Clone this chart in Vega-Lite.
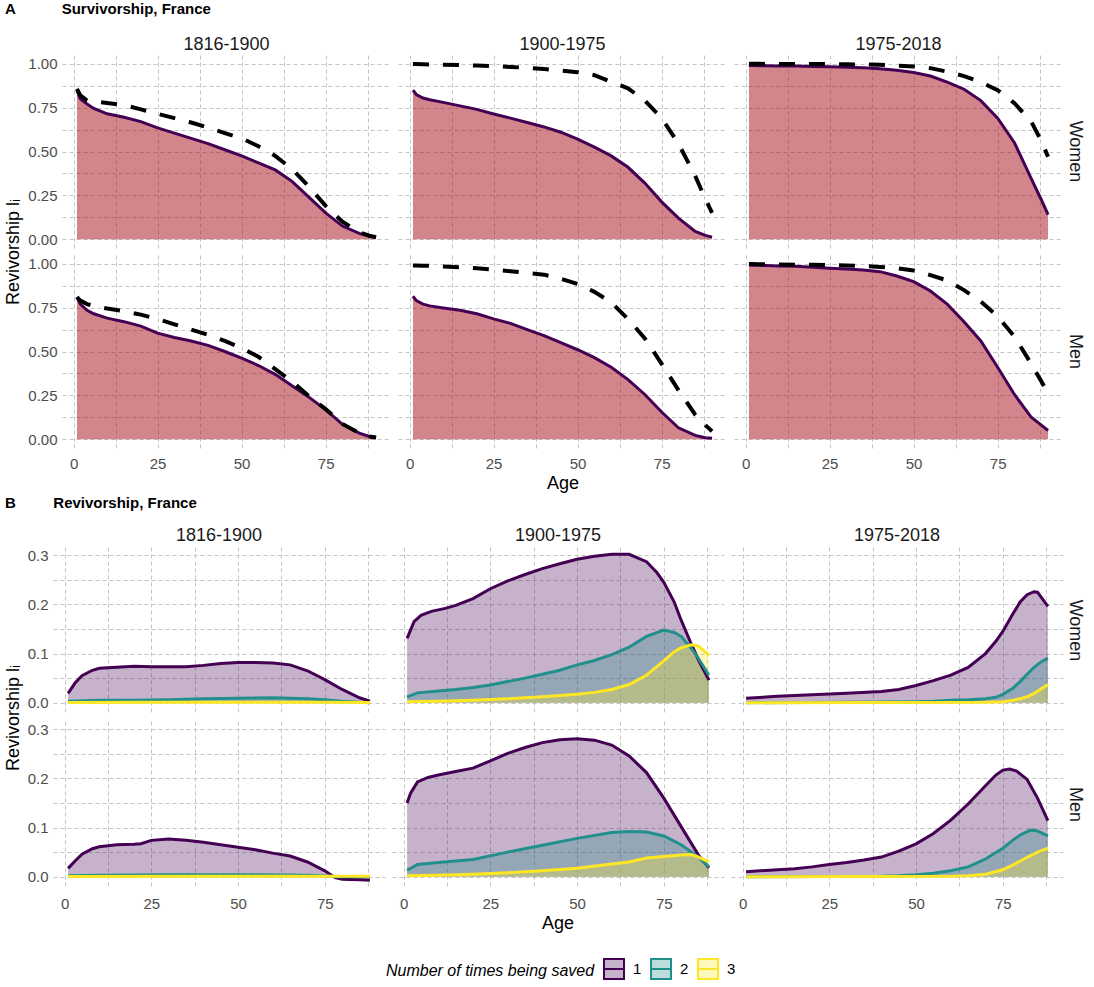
{
"$schema": "https://vega.github.io/schema/vega-lite/v6.json",
"background": "white",
"padding": {"left": 0, "top": 2, "right": 5, "bottom": 5},
"config": {
  "font": "Liberation Sans",
  "view": {"stroke": null},
  "axis": {"domain": false, "ticks": false, "gridColor": "#c4c4c4", "gridDash": [4, 3], "gridWidth": 1, "labelFontSize": 15, "labelColor": "#4d4d4d", "labelPadding": 5},
  "header": {"labelFontSize": 18, "labelColor": "#1a1a1a", "titleFontSize": 18, "titleColor": "#000000", "titleFontWeight": "normal"},
  "title": {"fontSize": 15, "fontWeight": "bold", "color": "#000000", "anchor": "start", "frame": "bounds"}
},
"spacing": 3,
"vconcat": [
{"spacing": -3, "hconcat": [
{"data": {"values": [{"k": 0}]}, "mark": {"type": "point", "opacity": 0}, "encoding": {}, "width": 1, "height": 1},
{
  "title": {"text": "A\u00a0\u00a0\u00a0\u00a0\u00a0\u00a0\u00a0\u00a0\u00a0\u00a0\u00a0Survivorship, France", "offset": 19},
  "data": {"values": [
{"p":"1816-1900","s":"Women","a":1,"obs":0.85,"sav":0.857},
{"p":"1816-1900","s":"Women","a":2,"obs":0.80,"sav":0.82},
{"p":"1816-1900","s":"Women","a":4,"obs":0.77,"sav":0.79},
{"p":"1816-1900","s":"Women","a":6,"obs":0.745,"sav":0.785},
{"p":"1816-1900","s":"Women","a":10,"obs":0.715,"sav":0.776},
{"p":"1816-1900","s":"Women","a":15,"obs":0.695,"sav":0.765},
{"p":"1816-1900","s":"Women","a":20,"obs":0.67,"sav":0.74},
{"p":"1816-1900","s":"Women","a":25,"obs":0.635,"sav":0.715},
{"p":"1816-1900","s":"Women","a":30,"obs":0.605,"sav":0.69},
{"p":"1816-1900","s":"Women","a":35,"obs":0.575,"sav":0.665},
{"p":"1816-1900","s":"Women","a":40,"obs":0.545,"sav":0.636},
{"p":"1816-1900","s":"Women","a":45,"obs":0.51,"sav":0.605},
{"p":"1816-1900","s":"Women","a":50,"obs":0.475,"sav":0.575},
{"p":"1816-1900","s":"Women","a":55,"obs":0.435,"sav":0.53},
{"p":"1816-1900","s":"Women","a":60,"obs":0.395,"sav":0.475},
{"p":"1816-1900","s":"Women","a":65,"obs":0.33,"sav":0.40},
{"p":"1816-1900","s":"Women","a":70,"obs":0.24,"sav":0.30},
{"p":"1816-1900","s":"Women","a":75,"obs":0.15,"sav":0.19},
{"p":"1816-1900","s":"Women","a":80,"obs":0.075,"sav":0.10},
{"p":"1816-1900","s":"Women","a":85,"obs":0.033,"sav":0.04},
{"p":"1816-1900","s":"Women","a":88,"obs":0.018,"sav":0.02},
{"p":"1816-1900","s":"Women","a":90,"obs":0.011,"sav":0.012},
{"p":"1816-1900","s":"Men","a":1,"obs":0.81,"sav":0.81},
{"p":"1816-1900","s":"Men","a":2,"obs":0.77,"sav":0.79},
{"p":"1816-1900","s":"Men","a":4,"obs":0.735,"sav":0.77},
{"p":"1816-1900","s":"Men","a":6,"obs":0.715,"sav":0.76},
{"p":"1816-1900","s":"Men","a":10,"obs":0.69,"sav":0.745},
{"p":"1816-1900","s":"Men","a":15,"obs":0.67,"sav":0.73},
{"p":"1816-1900","s":"Men","a":20,"obs":0.645,"sav":0.71},
{"p":"1816-1900","s":"Men","a":25,"obs":0.605,"sav":0.685},
{"p":"1816-1900","s":"Men","a":30,"obs":0.58,"sav":0.655},
{"p":"1816-1900","s":"Men","a":35,"obs":0.56,"sav":0.625},
{"p":"1816-1900","s":"Men","a":40,"obs":0.535,"sav":0.595},
{"p":"1816-1900","s":"Men","a":45,"obs":0.5,"sav":0.56},
{"p":"1816-1900","s":"Men","a":50,"obs":0.462,"sav":0.52},
{"p":"1816-1900","s":"Men","a":55,"obs":0.42,"sav":0.47},
{"p":"1816-1900","s":"Men","a":60,"obs":0.37,"sav":0.40},
{"p":"1816-1900","s":"Men","a":65,"obs":0.305,"sav":0.33},
{"p":"1816-1900","s":"Men","a":70,"obs":0.24,"sav":0.245},
{"p":"1816-1900","s":"Men","a":75,"obs":0.169,"sav":0.172},
{"p":"1816-1900","s":"Men","a":80,"obs":0.085,"sav":0.087},
{"p":"1816-1900","s":"Men","a":85,"obs":0.035,"sav":0.036},
{"p":"1816-1900","s":"Men","a":88,"obs":0.016,"sav":0.016},
{"p":"1816-1900","s":"Men","a":90,"obs":0.01,"sav":0.01},
{"p":"1900-1975","s":"Women","a":1,"obs":0.85,"sav":0.998},
{"p":"1900-1975","s":"Women","a":2,"obs":0.825,"sav":0.998},
{"p":"1900-1975","s":"Women","a":4,"obs":0.805,"sav":0.997},
{"p":"1900-1975","s":"Women","a":6,"obs":0.795,"sav":0.996},
{"p":"1900-1975","s":"Women","a":10,"obs":0.78,"sav":0.995},
{"p":"1900-1975","s":"Women","a":15,"obs":0.76,"sav":0.993},
{"p":"1900-1975","s":"Women","a":20,"obs":0.74,"sav":0.99},
{"p":"1900-1975","s":"Women","a":25,"obs":0.714,"sav":0.987},
{"p":"1900-1975","s":"Women","a":30,"obs":0.69,"sav":0.982},
{"p":"1900-1975","s":"Women","a":35,"obs":0.665,"sav":0.977},
{"p":"1900-1975","s":"Women","a":40,"obs":0.64,"sav":0.97},
{"p":"1900-1975","s":"Women","a":45,"obs":0.61,"sav":0.962},
{"p":"1900-1975","s":"Women","a":50,"obs":0.57,"sav":0.952},
{"p":"1900-1975","s":"Women","a":55,"obs":0.525,"sav":0.935},
{"p":"1900-1975","s":"Women","a":60,"obs":0.475,"sav":0.897},
{"p":"1900-1975","s":"Women","a":65,"obs":0.41,"sav":0.86},
{"p":"1900-1975","s":"Women","a":70,"obs":0.32,"sav":0.79},
{"p":"1900-1975","s":"Women","a":75,"obs":0.213,"sav":0.69},
{"p":"1900-1975","s":"Women","a":80,"obs":0.12,"sav":0.545},
{"p":"1900-1975","s":"Women","a":85,"obs":0.045,"sav":0.36},
{"p":"1900-1975","s":"Women","a":88,"obs":0.022,"sav":0.23},
{"p":"1900-1975","s":"Women","a":90,"obs":0.012,"sav":0.15},
{"p":"1900-1975","s":"Men","a":1,"obs":0.815,"sav":0.99},
{"p":"1900-1975","s":"Men","a":2,"obs":0.79,"sav":0.99},
{"p":"1900-1975","s":"Men","a":4,"obs":0.77,"sav":0.989},
{"p":"1900-1975","s":"Men","a":6,"obs":0.76,"sav":0.988},
{"p":"1900-1975","s":"Men","a":10,"obs":0.748,"sav":0.984},
{"p":"1900-1975","s":"Men","a":15,"obs":0.735,"sav":0.98},
{"p":"1900-1975","s":"Men","a":20,"obs":0.715,"sav":0.975},
{"p":"1900-1975","s":"Men","a":25,"obs":0.686,"sav":0.967},
{"p":"1900-1975","s":"Men","a":30,"obs":0.66,"sav":0.957},
{"p":"1900-1975","s":"Men","a":35,"obs":0.625,"sav":0.948},
{"p":"1900-1975","s":"Men","a":40,"obs":0.59,"sav":0.938},
{"p":"1900-1975","s":"Men","a":45,"obs":0.55,"sav":0.915},
{"p":"1900-1975","s":"Men","a":50,"obs":0.51,"sav":0.885},
{"p":"1900-1975","s":"Men","a":55,"obs":0.465,"sav":0.84},
{"p":"1900-1975","s":"Men","a":60,"obs":0.41,"sav":0.78},
{"p":"1900-1975","s":"Men","a":65,"obs":0.34,"sav":0.685},
{"p":"1900-1975","s":"Men","a":70,"obs":0.255,"sav":0.575},
{"p":"1900-1975","s":"Men","a":75,"obs":0.155,"sav":0.43},
{"p":"1900-1975","s":"Men","a":80,"obs":0.065,"sav":0.28},
{"p":"1900-1975","s":"Men","a":85,"obs":0.022,"sav":0.14},
{"p":"1900-1975","s":"Men","a":88,"obs":0.009,"sav":0.08},
{"p":"1900-1975","s":"Men","a":90,"obs":0.005,"sav":0.045},
{"p":"1975-2018","s":"Women","a":1,"obs":0.99,"sav":1.0},
{"p":"1975-2018","s":"Women","a":2,"obs":0.99,"sav":1.0},
{"p":"1975-2018","s":"Women","a":4,"obs":0.989,"sav":1.0},
{"p":"1975-2018","s":"Women","a":6,"obs":0.989,"sav":0.999},
{"p":"1975-2018","s":"Women","a":10,"obs":0.988,"sav":0.999},
{"p":"1975-2018","s":"Women","a":15,"obs":0.987,"sav":0.999},
{"p":"1975-2018","s":"Women","a":20,"obs":0.985,"sav":0.998},
{"p":"1975-2018","s":"Women","a":25,"obs":0.983,"sav":0.998},
{"p":"1975-2018","s":"Women","a":30,"obs":0.98,"sav":0.997},
{"p":"1975-2018","s":"Women","a":35,"obs":0.977,"sav":0.996},
{"p":"1975-2018","s":"Women","a":40,"obs":0.972,"sav":0.995},
{"p":"1975-2018","s":"Women","a":45,"obs":0.963,"sav":0.99},
{"p":"1975-2018","s":"Women","a":50,"obs":0.95,"sav":0.985},
{"p":"1975-2018","s":"Women","a":55,"obs":0.93,"sav":0.975},
{"p":"1975-2018","s":"Women","a":60,"obs":0.895,"sav":0.955},
{"p":"1975-2018","s":"Women","a":65,"obs":0.855,"sav":0.93},
{"p":"1975-2018","s":"Women","a":70,"obs":0.79,"sav":0.895},
{"p":"1975-2018","s":"Women","a":75,"obs":0.69,"sav":0.85},
{"p":"1975-2018","s":"Women","a":80,"obs":0.55,"sav":0.775},
{"p":"1975-2018","s":"Women","a":85,"obs":0.345,"sav":0.67},
{"p":"1975-2018","s":"Women","a":88,"obs":0.225,"sav":0.56},
{"p":"1975-2018","s":"Women","a":90,"obs":0.14,"sav":0.47},
{"p":"1975-2018","s":"Men","a":1,"obs":0.993,"sav":0.998},
{"p":"1975-2018","s":"Men","a":2,"obs":0.992,"sav":0.998},
{"p":"1975-2018","s":"Men","a":4,"obs":0.991,"sav":0.997},
{"p":"1975-2018","s":"Men","a":6,"obs":0.99,"sav":0.997},
{"p":"1975-2018","s":"Men","a":10,"obs":0.988,"sav":0.996},
{"p":"1975-2018","s":"Men","a":15,"obs":0.986,"sav":0.995},
{"p":"1975-2018","s":"Men","a":20,"obs":0.98,"sav":0.994},
{"p":"1975-2018","s":"Men","a":25,"obs":0.975,"sav":0.992},
{"p":"1975-2018","s":"Men","a":30,"obs":0.97,"sav":0.99},
{"p":"1975-2018","s":"Men","a":35,"obs":0.964,"sav":0.987},
{"p":"1975-2018","s":"Men","a":40,"obs":0.955,"sav":0.982},
{"p":"1975-2018","s":"Men","a":45,"obs":0.93,"sav":0.975},
{"p":"1975-2018","s":"Men","a":50,"obs":0.898,"sav":0.962},
{"p":"1975-2018","s":"Men","a":55,"obs":0.845,"sav":0.935},
{"p":"1975-2018","s":"Men","a":60,"obs":0.77,"sav":0.905},
{"p":"1975-2018","s":"Men","a":65,"obs":0.67,"sav":0.85},
{"p":"1975-2018","s":"Men","a":70,"obs":0.56,"sav":0.785},
{"p":"1975-2018","s":"Men","a":75,"obs":0.41,"sav":0.70},
{"p":"1975-2018","s":"Men","a":80,"obs":0.255,"sav":0.585},
{"p":"1975-2018","s":"Men","a":85,"obs":0.125,"sav":0.43},
{"p":"1975-2018","s":"Men","a":88,"obs":0.08,"sav":0.33},
{"p":"1975-2018","s":"Men","a":90,"obs":0.05,"sav":0.26}
  ]},
  "facet": {
    "column": {"field": "p", "type": "nominal", "header": {"title": "Age", "titleOrient": "bottom", "labelOrient": "top", "labelPadding": 1, "titlePadding": -6}},
    "row": {"field": "s", "type": "nominal", "sort": ["Women", "Men"], "header": {"title": "Revivorship l\u1d62", "titleOrient": "left", "labelOrient": "right", "labelAngle": 90, "labelPadding": 3, "titlePadding": -6}}
  },
  "spacing": {"row": 7, "column": 7},
  "spec": {
    "width": 329,
    "height": 193,
    "encoding": {
      "x": {"field": "a", "type": "quantitative", "scale": {"domain": [-3.45, 94.45], "nice": false, "zero": false},
            "axis": {"title": null, "values": [0, 12.5, 25, 37.5, 50, 62.5, 75, 87.5], "labelExpr": "datum.value % 25 == 0 ? datum.label : ''", "labelPadding": 8}}
    },
    "layer": [
      {"mark": {"type": "area", "color": "#a80c1a", "fillOpacity": 0.5},
       "encoding": {"y": {"field": "obs", "type": "quantitative", "stack": null, "scale": {"domain": [-0.05, 1.05], "nice": false},
                          "axis": {"title": null, "values": [0, 0.125, 0.25, 0.375, 0.5, 0.625, 0.75, 0.875, 1], "labelExpr": "(datum.value*4) % 1 == 0 ? format(datum.value, '.2f') : ''"}}}},
      {"mark": {"type": "line", "color": "#440154", "strokeWidth": 3},
       "encoding": {"y": {"field": "obs", "type": "quantitative",
                          "axis": {"title": null, "values": [0, 0.125, 0.25, 0.375, 0.5, 0.625, 0.75, 0.875, 1], "labelExpr": "(datum.value*4) % 1 == 0 ? format(datum.value, '.2f') : ''"}}}},
      {"mark": {"type": "line", "color": "#000000", "strokeWidth": 4, "strokeDash": [16, 14]},
       "encoding": {"y": {"field": "sav", "type": "quantitative",
                          "axis": {"title": null, "values": [0, 0.125, 0.25, 0.375, 0.5, 0.625, 0.75, 0.875, 1], "labelExpr": "(datum.value*4) % 1 == 0 ? format(datum.value, '.2f') : ''"}}}}
    ]
  }
}
]},
{"spacing": -3, "hconcat": [
{"data": {"values": [{"k": 0}]}, "mark": {"type": "point", "opacity": 0}, "encoding": {}, "width": 1, "height": 1},
{
  "title": {"text": "B\u00a0\u00a0\u00a0\u00a0\u00a0\u00a0\u00a0\u00a0\u00a0Revivorship, France", "offset": 16},
  "data": {"values": [
{"p":"1816-1900","s":"Women","n":"1","a":1,"v":0.019},
{"p":"1816-1900","s":"Women","n":"1","a":3,"v":0.04},
{"p":"1816-1900","s":"Women","n":"1","a":5,"v":0.055},
{"p":"1816-1900","s":"Women","n":"1","a":8,"v":0.066},
{"p":"1816-1900","s":"Women","n":"1","a":10,"v":0.07},
{"p":"1816-1900","s":"Women","n":"1","a":15,"v":0.072},
{"p":"1816-1900","s":"Women","n":"1","a":20,"v":0.074},
{"p":"1816-1900","s":"Women","n":"1","a":25,"v":0.073},
{"p":"1816-1900","s":"Women","n":"1","a":30,"v":0.073},
{"p":"1816-1900","s":"Women","n":"1","a":35,"v":0.073},
{"p":"1816-1900","s":"Women","n":"1","a":40,"v":0.076},
{"p":"1816-1900","s":"Women","n":"1","a":45,"v":0.08},
{"p":"1816-1900","s":"Women","n":"1","a":50,"v":0.082},
{"p":"1816-1900","s":"Women","n":"1","a":55,"v":0.082},
{"p":"1816-1900","s":"Women","n":"1","a":60,"v":0.081},
{"p":"1816-1900","s":"Women","n":"1","a":65,"v":0.077},
{"p":"1816-1900","s":"Women","n":"1","a":70,"v":0.065},
{"p":"1816-1900","s":"Women","n":"1","a":75,"v":0.047},
{"p":"1816-1900","s":"Women","n":"1","a":80,"v":0.027},
{"p":"1816-1900","s":"Women","n":"1","a":85,"v":0.01},
{"p":"1816-1900","s":"Women","n":"1","a":88,"v":0.003},
{"p":"1816-1900","s":"Women","n":"2","a":1,"v":0.003},
{"p":"1816-1900","s":"Women","n":"2","a":10,"v":0.005},
{"p":"1816-1900","s":"Women","n":"2","a":20,"v":0.005},
{"p":"1816-1900","s":"Women","n":"2","a":30,"v":0.006},
{"p":"1816-1900","s":"Women","n":"2","a":40,"v":0.008},
{"p":"1816-1900","s":"Women","n":"2","a":50,"v":0.009},
{"p":"1816-1900","s":"Women","n":"2","a":60,"v":0.01},
{"p":"1816-1900","s":"Women","n":"2","a":65,"v":0.009},
{"p":"1816-1900","s":"Women","n":"2","a":70,"v":0.008},
{"p":"1816-1900","s":"Women","n":"2","a":75,"v":0.006},
{"p":"1816-1900","s":"Women","n":"2","a":80,"v":0.003},
{"p":"1816-1900","s":"Women","n":"2","a":85,"v":0.001},
{"p":"1816-1900","s":"Women","n":"2","a":88,"v":0.0},
{"p":"1816-1900","s":"Women","n":"3","a":1,"v":0.0005},
{"p":"1816-1900","s":"Women","n":"3","a":30,"v":0.0008},
{"p":"1816-1900","s":"Women","n":"3","a":60,"v":0.001},
{"p":"1816-1900","s":"Women","n":"3","a":75,"v":0.001},
{"p":"1816-1900","s":"Women","n":"3","a":88,"v":0.0005},
{"p":"1816-1900","s":"Men","n":"1","a":1,"v":0.017},
{"p":"1816-1900","s":"Men","n":"1","a":3,"v":0.032},
{"p":"1816-1900","s":"Men","n":"1","a":5,"v":0.046},
{"p":"1816-1900","s":"Men","n":"1","a":8,"v":0.057},
{"p":"1816-1900","s":"Men","n":"1","a":10,"v":0.061},
{"p":"1816-1900","s":"Men","n":"1","a":15,"v":0.065},
{"p":"1816-1900","s":"Men","n":"1","a":20,"v":0.066},
{"p":"1816-1900","s":"Men","n":"1","a":22,"v":0.067},
{"p":"1816-1900","s":"Men","n":"1","a":25,"v":0.074},
{"p":"1816-1900","s":"Men","n":"1","a":30,"v":0.077},
{"p":"1816-1900","s":"Men","n":"1","a":35,"v":0.074},
{"p":"1816-1900","s":"Men","n":"1","a":40,"v":0.07},
{"p":"1816-1900","s":"Men","n":"1","a":45,"v":0.065},
{"p":"1816-1900","s":"Men","n":"1","a":50,"v":0.06},
{"p":"1816-1900","s":"Men","n":"1","a":55,"v":0.055},
{"p":"1816-1900","s":"Men","n":"1","a":60,"v":0.048},
{"p":"1816-1900","s":"Men","n":"1","a":65,"v":0.042},
{"p":"1816-1900","s":"Men","n":"1","a":70,"v":0.03},
{"p":"1816-1900","s":"Men","n":"1","a":75,"v":0.012},
{"p":"1816-1900","s":"Men","n":"1","a":78,"v":-0.002},
{"p":"1816-1900","s":"Men","n":"1","a":80,"v":-0.005},
{"p":"1816-1900","s":"Men","n":"1","a":85,"v":-0.006},
{"p":"1816-1900","s":"Men","n":"1","a":88,"v":-0.007},
{"p":"1816-1900","s":"Men","n":"2","a":1,"v":0.002},
{"p":"1816-1900","s":"Men","n":"2","a":10,"v":0.003},
{"p":"1816-1900","s":"Men","n":"2","a":30,"v":0.004},
{"p":"1816-1900","s":"Men","n":"2","a":50,"v":0.004},
{"p":"1816-1900","s":"Men","n":"2","a":70,"v":0.003},
{"p":"1816-1900","s":"Men","n":"2","a":75,"v":0.002},
{"p":"1816-1900","s":"Men","n":"2","a":78,"v":0.0},
{"p":"1816-1900","s":"Men","n":"2","a":88,"v":0.0},
{"p":"1816-1900","s":"Men","n":"3","a":1,"v":0.0005},
{"p":"1816-1900","s":"Men","n":"3","a":40,"v":0.0008},
{"p":"1816-1900","s":"Men","n":"3","a":78,"v":0.001},
{"p":"1816-1900","s":"Men","n":"3","a":88,"v":0.001},
{"p":"1900-1975","s":"Women","n":"1","a":1,"v":0.131},
{"p":"1900-1975","s":"Women","n":"1","a":3,"v":0.165},
{"p":"1900-1975","s":"Women","n":"1","a":5,"v":0.178},
{"p":"1900-1975","s":"Women","n":"1","a":8,"v":0.186},
{"p":"1900-1975","s":"Women","n":"1","a":12,"v":0.192},
{"p":"1900-1975","s":"Women","n":"1","a":15,"v":0.198},
{"p":"1900-1975","s":"Women","n":"1","a":20,"v":0.212},
{"p":"1900-1975","s":"Women","n":"1","a":25,"v":0.232},
{"p":"1900-1975","s":"Women","n":"1","a":30,"v":0.248},
{"p":"1900-1975","s":"Women","n":"1","a":35,"v":0.261},
{"p":"1900-1975","s":"Women","n":"1","a":40,"v":0.273},
{"p":"1900-1975","s":"Women","n":"1","a":45,"v":0.283},
{"p":"1900-1975","s":"Women","n":"1","a":50,"v":0.292},
{"p":"1900-1975","s":"Women","n":"1","a":55,"v":0.298},
{"p":"1900-1975","s":"Women","n":"1","a":60,"v":0.302},
{"p":"1900-1975","s":"Women","n":"1","a":65,"v":0.302},
{"p":"1900-1975","s":"Women","n":"1","a":70,"v":0.287},
{"p":"1900-1975","s":"Women","n":"1","a":73,"v":0.265},
{"p":"1900-1975","s":"Women","n":"1","a":75,"v":0.245},
{"p":"1900-1975","s":"Women","n":"1","a":78,"v":0.205},
{"p":"1900-1975","s":"Women","n":"1","a":80,"v":0.168},
{"p":"1900-1975","s":"Women","n":"1","a":83,"v":0.118},
{"p":"1900-1975","s":"Women","n":"1","a":85,"v":0.087},
{"p":"1900-1975","s":"Women","n":"1","a":88,"v":0.046},
{"p":"1900-1975","s":"Women","n":"2","a":1,"v":0.012},
{"p":"1900-1975","s":"Women","n":"2","a":4,"v":0.02},
{"p":"1900-1975","s":"Women","n":"2","a":10,"v":0.024},
{"p":"1900-1975","s":"Women","n":"2","a":15,"v":0.027},
{"p":"1900-1975","s":"Women","n":"2","a":20,"v":0.031},
{"p":"1900-1975","s":"Women","n":"2","a":25,"v":0.036},
{"p":"1900-1975","s":"Women","n":"2","a":30,"v":0.043},
{"p":"1900-1975","s":"Women","n":"2","a":35,"v":0.05},
{"p":"1900-1975","s":"Women","n":"2","a":40,"v":0.058},
{"p":"1900-1975","s":"Women","n":"2","a":45,"v":0.066},
{"p":"1900-1975","s":"Women","n":"2","a":50,"v":0.077},
{"p":"1900-1975","s":"Women","n":"2","a":55,"v":0.086},
{"p":"1900-1975","s":"Women","n":"2","a":60,"v":0.098},
{"p":"1900-1975","s":"Women","n":"2","a":65,"v":0.113},
{"p":"1900-1975","s":"Women","n":"2","a":70,"v":0.135},
{"p":"1900-1975","s":"Women","n":"2","a":75,"v":0.148},
{"p":"1900-1975","s":"Women","n":"2","a":78,"v":0.143},
{"p":"1900-1975","s":"Women","n":"2","a":80,"v":0.135},
{"p":"1900-1975","s":"Women","n":"2","a":83,"v":0.11},
{"p":"1900-1975","s":"Women","n":"2","a":85,"v":0.09},
{"p":"1900-1975","s":"Women","n":"2","a":88,"v":0.056},
{"p":"1900-1975","s":"Women","n":"3","a":1,"v":0.002},
{"p":"1900-1975","s":"Women","n":"3","a":10,"v":0.003},
{"p":"1900-1975","s":"Women","n":"3","a":20,"v":0.005},
{"p":"1900-1975","s":"Women","n":"3","a":30,"v":0.008},
{"p":"1900-1975","s":"Women","n":"3","a":40,"v":0.012},
{"p":"1900-1975","s":"Women","n":"3","a":50,"v":0.017},
{"p":"1900-1975","s":"Women","n":"3","a":55,"v":0.021},
{"p":"1900-1975","s":"Women","n":"3","a":60,"v":0.027},
{"p":"1900-1975","s":"Women","n":"3","a":65,"v":0.037},
{"p":"1900-1975","s":"Women","n":"3","a":70,"v":0.056},
{"p":"1900-1975","s":"Women","n":"3","a":75,"v":0.085},
{"p":"1900-1975","s":"Women","n":"3","a":78,"v":0.104},
{"p":"1900-1975","s":"Women","n":"3","a":80,"v":0.112},
{"p":"1900-1975","s":"Women","n":"3","a":83,"v":0.118},
{"p":"1900-1975","s":"Women","n":"3","a":85,"v":0.115},
{"p":"1900-1975","s":"Women","n":"3","a":88,"v":0.097},
{"p":"1900-1975","s":"Men","n":"1","a":1,"v":0.15},
{"p":"1900-1975","s":"Men","n":"1","a":2,"v":0.17},
{"p":"1900-1975","s":"Men","n":"1","a":4,"v":0.193},
{"p":"1900-1975","s":"Men","n":"1","a":7,"v":0.202},
{"p":"1900-1975","s":"Men","n":"1","a":10,"v":0.207},
{"p":"1900-1975","s":"Men","n":"1","a":15,"v":0.214},
{"p":"1900-1975","s":"Men","n":"1","a":20,"v":0.221},
{"p":"1900-1975","s":"Men","n":"1","a":25,"v":0.236},
{"p":"1900-1975","s":"Men","n":"1","a":30,"v":0.251},
{"p":"1900-1975","s":"Men","n":"1","a":35,"v":0.263},
{"p":"1900-1975","s":"Men","n":"1","a":40,"v":0.273},
{"p":"1900-1975","s":"Men","n":"1","a":45,"v":0.279},
{"p":"1900-1975","s":"Men","n":"1","a":50,"v":0.281},
{"p":"1900-1975","s":"Men","n":"1","a":55,"v":0.278},
{"p":"1900-1975","s":"Men","n":"1","a":60,"v":0.268},
{"p":"1900-1975","s":"Men","n":"1","a":65,"v":0.246},
{"p":"1900-1975","s":"Men","n":"1","a":70,"v":0.212},
{"p":"1900-1975","s":"Men","n":"1","a":75,"v":0.16},
{"p":"1900-1975","s":"Men","n":"1","a":80,"v":0.102},
{"p":"1900-1975","s":"Men","n":"1","a":85,"v":0.044},
{"p":"1900-1975","s":"Men","n":"1","a":88,"v":0.018},
{"p":"1900-1975","s":"Men","n":"2","a":1,"v":0.013},
{"p":"1900-1975","s":"Men","n":"2","a":4,"v":0.025},
{"p":"1900-1975","s":"Men","n":"2","a":10,"v":0.029},
{"p":"1900-1975","s":"Men","n":"2","a":20,"v":0.035},
{"p":"1900-1975","s":"Men","n":"2","a":30,"v":0.05},
{"p":"1900-1975","s":"Men","n":"2","a":40,"v":0.064},
{"p":"1900-1975","s":"Men","n":"2","a":50,"v":0.078},
{"p":"1900-1975","s":"Men","n":"2","a":60,"v":0.09},
{"p":"1900-1975","s":"Men","n":"2","a":65,"v":0.092},
{"p":"1900-1975","s":"Men","n":"2","a":70,"v":0.091},
{"p":"1900-1975","s":"Men","n":"2","a":75,"v":0.083},
{"p":"1900-1975","s":"Men","n":"2","a":80,"v":0.065},
{"p":"1900-1975","s":"Men","n":"2","a":85,"v":0.04},
{"p":"1900-1975","s":"Men","n":"2","a":88,"v":0.02},
{"p":"1900-1975","s":"Men","n":"3","a":1,"v":0.002},
{"p":"1900-1975","s":"Men","n":"3","a":10,"v":0.003},
{"p":"1900-1975","s":"Men","n":"3","a":20,"v":0.005},
{"p":"1900-1975","s":"Men","n":"3","a":30,"v":0.008},
{"p":"1900-1975","s":"Men","n":"3","a":40,"v":0.012},
{"p":"1900-1975","s":"Men","n":"3","a":50,"v":0.017},
{"p":"1900-1975","s":"Men","n":"3","a":60,"v":0.026},
{"p":"1900-1975","s":"Men","n":"3","a":65,"v":0.03},
{"p":"1900-1975","s":"Men","n":"3","a":70,"v":0.038},
{"p":"1900-1975","s":"Men","n":"3","a":75,"v":0.041},
{"p":"1900-1975","s":"Men","n":"3","a":80,"v":0.044},
{"p":"1900-1975","s":"Men","n":"3","a":83,"v":0.045},
{"p":"1900-1975","s":"Men","n":"3","a":85,"v":0.04},
{"p":"1900-1975","s":"Men","n":"3","a":88,"v":0.03},
{"p":"1975-2018","s":"Women","n":"1","a":1,"v":0.009},
{"p":"1975-2018","s":"Women","n":"1","a":10,"v":0.013},
{"p":"1975-2018","s":"Women","n":"1","a":20,"v":0.016},
{"p":"1975-2018","s":"Women","n":"1","a":30,"v":0.019},
{"p":"1975-2018","s":"Women","n":"1","a":40,"v":0.023},
{"p":"1975-2018","s":"Women","n":"1","a":45,"v":0.027},
{"p":"1975-2018","s":"Women","n":"1","a":50,"v":0.035},
{"p":"1975-2018","s":"Women","n":"1","a":55,"v":0.045},
{"p":"1975-2018","s":"Women","n":"1","a":60,"v":0.056},
{"p":"1975-2018","s":"Women","n":"1","a":65,"v":0.072},
{"p":"1975-2018","s":"Women","n":"1","a":70,"v":0.1},
{"p":"1975-2018","s":"Women","n":"1","a":73,"v":0.125},
{"p":"1975-2018","s":"Women","n":"1","a":75,"v":0.145},
{"p":"1975-2018","s":"Women","n":"1","a":78,"v":0.182},
{"p":"1975-2018","s":"Women","n":"1","a":80,"v":0.205},
{"p":"1975-2018","s":"Women","n":"1","a":82,"v":0.22},
{"p":"1975-2018","s":"Women","n":"1","a":84,"v":0.226},
{"p":"1975-2018","s":"Women","n":"1","a":85,"v":0.225},
{"p":"1975-2018","s":"Women","n":"1","a":88,"v":0.196},
{"p":"1975-2018","s":"Women","n":"2","a":1,"v":0.0},
{"p":"1975-2018","s":"Women","n":"2","a":30,"v":0.001},
{"p":"1975-2018","s":"Women","n":"2","a":50,"v":0.002},
{"p":"1975-2018","s":"Women","n":"2","a":55,"v":0.003},
{"p":"1975-2018","s":"Women","n":"2","a":60,"v":0.005},
{"p":"1975-2018","s":"Women","n":"2","a":65,"v":0.006},
{"p":"1975-2018","s":"Women","n":"2","a":70,"v":0.008},
{"p":"1975-2018","s":"Women","n":"2","a":73,"v":0.011},
{"p":"1975-2018","s":"Women","n":"2","a":75,"v":0.017},
{"p":"1975-2018","s":"Women","n":"2","a":78,"v":0.03},
{"p":"1975-2018","s":"Women","n":"2","a":80,"v":0.043},
{"p":"1975-2018","s":"Women","n":"2","a":82,"v":0.058},
{"p":"1975-2018","s":"Women","n":"2","a":84,"v":0.072},
{"p":"1975-2018","s":"Women","n":"2","a":86,"v":0.083},
{"p":"1975-2018","s":"Women","n":"2","a":88,"v":0.091},
{"p":"1975-2018","s":"Women","n":"3","a":1,"v":0.0},
{"p":"1975-2018","s":"Women","n":"3","a":70,"v":0.001},
{"p":"1975-2018","s":"Women","n":"3","a":75,"v":0.002},
{"p":"1975-2018","s":"Women","n":"3","a":78,"v":0.005},
{"p":"1975-2018","s":"Women","n":"3","a":80,"v":0.008},
{"p":"1975-2018","s":"Women","n":"3","a":82,"v":0.012},
{"p":"1975-2018","s":"Women","n":"3","a":84,"v":0.019},
{"p":"1975-2018","s":"Women","n":"3","a":86,"v":0.028},
{"p":"1975-2018","s":"Women","n":"3","a":88,"v":0.037},
{"p":"1975-2018","s":"Men","n":"1","a":1,"v":0.01},
{"p":"1975-2018","s":"Men","n":"1","a":5,"v":0.012},
{"p":"1975-2018","s":"Men","n":"1","a":10,"v":0.014},
{"p":"1975-2018","s":"Men","n":"1","a":15,"v":0.016},
{"p":"1975-2018","s":"Men","n":"1","a":20,"v":0.02},
{"p":"1975-2018","s":"Men","n":"1","a":25,"v":0.025},
{"p":"1975-2018","s":"Men","n":"1","a":30,"v":0.029},
{"p":"1975-2018","s":"Men","n":"1","a":35,"v":0.034},
{"p":"1975-2018","s":"Men","n":"1","a":40,"v":0.04},
{"p":"1975-2018","s":"Men","n":"1","a":45,"v":0.052},
{"p":"1975-2018","s":"Men","n":"1","a":50,"v":0.067},
{"p":"1975-2018","s":"Men","n":"1","a":55,"v":0.088},
{"p":"1975-2018","s":"Men","n":"1","a":60,"v":0.115},
{"p":"1975-2018","s":"Men","n":"1","a":65,"v":0.148},
{"p":"1975-2018","s":"Men","n":"1","a":70,"v":0.185},
{"p":"1975-2018","s":"Men","n":"1","a":73,"v":0.207},
{"p":"1975-2018","s":"Men","n":"1","a":75,"v":0.217},
{"p":"1975-2018","s":"Men","n":"1","a":77,"v":0.219},
{"p":"1975-2018","s":"Men","n":"1","a":79,"v":0.215},
{"p":"1975-2018","s":"Men","n":"1","a":82,"v":0.198},
{"p":"1975-2018","s":"Men","n":"1","a":85,"v":0.16},
{"p":"1975-2018","s":"Men","n":"1","a":88,"v":0.114},
{"p":"1975-2018","s":"Men","n":"2","a":1,"v":0.0},
{"p":"1975-2018","s":"Men","n":"2","a":40,"v":0.001},
{"p":"1975-2018","s":"Men","n":"2","a":45,"v":0.002},
{"p":"1975-2018","s":"Men","n":"2","a":50,"v":0.004},
{"p":"1975-2018","s":"Men","n":"2","a":55,"v":0.007},
{"p":"1975-2018","s":"Men","n":"2","a":60,"v":0.012},
{"p":"1975-2018","s":"Men","n":"2","a":65,"v":0.02},
{"p":"1975-2018","s":"Men","n":"2","a":70,"v":0.036},
{"p":"1975-2018","s":"Men","n":"2","a":75,"v":0.058},
{"p":"1975-2018","s":"Men","n":"2","a":78,"v":0.075},
{"p":"1975-2018","s":"Men","n":"2","a":80,"v":0.085},
{"p":"1975-2018","s":"Men","n":"2","a":83,"v":0.095},
{"p":"1975-2018","s":"Men","n":"2","a":85,"v":0.093},
{"p":"1975-2018","s":"Men","n":"2","a":88,"v":0.083},
{"p":"1975-2018","s":"Men","n":"3","a":1,"v":0.0},
{"p":"1975-2018","s":"Men","n":"3","a":60,"v":0.001},
{"p":"1975-2018","s":"Men","n":"3","a":65,"v":0.002},
{"p":"1975-2018","s":"Men","n":"3","a":70,"v":0.005},
{"p":"1975-2018","s":"Men","n":"3","a":75,"v":0.014},
{"p":"1975-2018","s":"Men","n":"3","a":78,"v":0.024},
{"p":"1975-2018","s":"Men","n":"3","a":80,"v":0.032},
{"p":"1975-2018","s":"Men","n":"3","a":83,"v":0.043},
{"p":"1975-2018","s":"Men","n":"3","a":85,"v":0.05},
{"p":"1975-2018","s":"Men","n":"3","a":88,"v":0.058}
  ]},
  "facet": {
    "column": {"field": "p", "type": "nominal", "header": {"title": "Age", "titleOrient": "bottom", "labelOrient": "top", "labelPadding": 2, "titlePadding": -6}},
    "row": {"field": "s", "type": "nominal", "sort": ["Women", "Men"], "header": {"title": "Revivorship l\u1d62", "titleOrient": "left", "labelOrient": "right", "labelAngle": 90, "labelPadding": 3, "titlePadding": -6}}
  },
  "spacing": {"row": 7, "column": 7},
  "spec": {
    "width": 332,
    "height": 167,
    "encoding": {
      "x": {"field": "a", "type": "quantitative", "scale": {"domain": [-3.35, 92.35], "nice": false, "zero": false},
            "axis": {"title": null, "values": [0, 12.5, 25, 37.5, 50, 62.5, 75, 87.5], "labelExpr": "datum.value % 25 == 0 ? datum.label : ''", "labelPadding": 8}},
      "y": {"field": "v", "type": "quantitative", "stack": null, "scale": {"domain": [-0.023, 0.317], "nice": false},
            "axis": {"title": null, "values": [0, 0.05, 0.1, 0.15, 0.2, 0.25, 0.3], "labelExpr": "abs(datum.value*10 - round(datum.value*10)) < 0.001 ? format(datum.value, '.1f') : ''"}}
    },
    "layer": [
      {"mark": {"type": "area", "fillOpacity": 0.3},
       "encoding": {
         "fill": {"field": "n", "type": "nominal", "scale": {"domain": ["1", "2", "3"], "range": ["#440154", "#21908C", "#FDE725"]},
                  "legend": {"title": "Number of times being saved", "orient": "none", "legendX": 383, "legendY": 903, "direction": "horizontal", "titleOrient": "left", "titleLimit": 400, "titleFontStyle": "italic", "titleFontWeight": "normal", "titleFontSize": 16, "titleColor": "#000000", "labelFontSize": 15, "labelColor": "#000000", "symbolType": "M-1,-1H1V1H-1Z M-1,0H1", "symbolSize": 400, "symbolStrokeWidth": 2, "labelOffset": 8, "columnPadding": 5, "titlePadding": 8,
                             "encode": {"symbols": {"update": {"fillOpacity": {"value": 0.3}, "strokeOpacity": {"value": 1}}}}}}
       }},
      {"mark": {"type": "line", "strokeWidth": 3},
       "encoding": {
         "stroke": {"field": "n", "type": "nominal", "scale": {"domain": ["1", "2", "3"], "range": ["#440154", "#21908C", "#FDE725"]},
                    "legend": {"title": "Number of times being saved", "orient": "none", "legendX": 383, "legendY": 903, "direction": "horizontal", "titleOrient": "left", "titleLimit": 400, "titleFontStyle": "italic", "titleFontWeight": "normal", "titleFontSize": 16, "titleColor": "#000000", "labelFontSize": 15, "labelColor": "#000000", "symbolType": "M-1,-1H1V1H-1Z M-1,0H1", "symbolSize": 400, "symbolStrokeWidth": 2, "labelOffset": 8, "columnPadding": 5, "titlePadding": 8,
                             "encode": {"symbols": {"update": {"fillOpacity": {"value": 0.3}, "strokeOpacity": {"value": 1}}}}}}
       }}
    ]
  }
}
]}
]
}
